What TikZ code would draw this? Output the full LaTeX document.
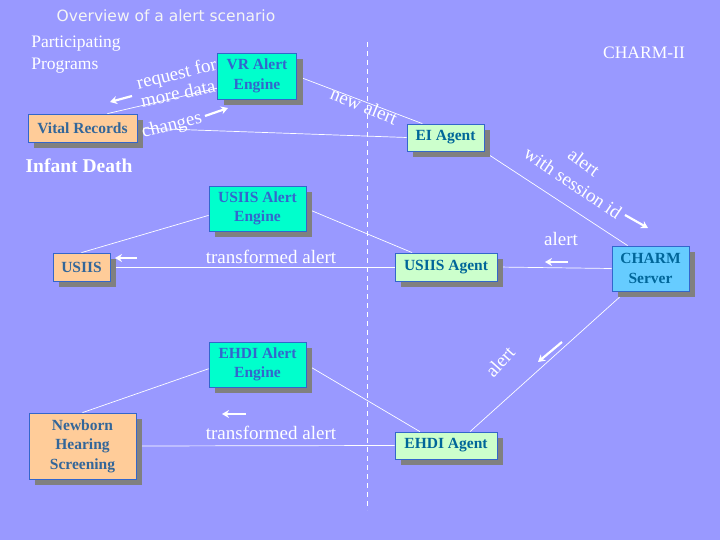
\documentclass[tikz,border=0pt]{standalone}
\usepackage{fontspec}
\setmainfont{Liberation Serif}
\newfontfamily\titlefont{DejaVu Sans}
\usetikzlibrary{shadows,arrows.meta}
\definecolor{bgblue}{RGB}{153,153,255}
\definecolor{engfill}{RGB}{0,255,204}
\definecolor{progfill}{RGB}{255,204,153}
\definecolor{agentfill}{RGB}{204,255,204}
\definecolor{servfill}{RGB}{102,204,255}
\definecolor{boxline}{RGB}{51,102,204}
\definecolor{progtext}{RGB}{51,102,153}
\definecolor{agenttext}{RGB}{0,102,153}
\pgfdeclarelayer{bg}
\pgfdeclarelayer{lines}
\pgfsetlayers{bg,lines,main}
\begin{document}
\begin{tikzpicture}[
			x=1pt, y=-1pt,
			box/.style = {draw=boxline, line width=0.8pt, align=center, inner sep=1pt,
				font=\fontsize{15.5}{19.5}\selectfont\bfseries,
				drop shadow={shadow xshift=6pt, shadow yshift=-6pt, fill=gray, opacity=1}},
			engine/.style = {box, fill=engfill, text=boxline, minimum width=97pt, minimum height=45pt},
			program/.style = {box, fill=progfill, text=progtext, minimum height=28pt},
			agent/.style = {box, fill=agentfill, text=agenttext, minimum height=28pt},
			server/.style = {box, fill=servfill, text=agenttext, minimum width=77pt, minimum height=45pt},
			lbl/.style = {text=white, inner sep=0pt, font=\fontsize{19}{19}\selectfont},
			flow/.style = {draw=white, line width=0.7pt},
			tip/.style = {draw=white, line width=2.2pt, -{Stealth[length=7pt,width=8pt]}},
			]
			\begin{pgfonlayer}{bg}
				\fill[bgblue] (0,0) rectangle (720,540);
			\end{pgfonlayer}
			% headings
			\node[text=white!92!gray, font=\titlefont\fontsize{15.5}{15.5}\selectfont] (title) at (166,16) {Overview of a alert scenario};
			\node[text=white, align=left, inner sep=0pt, font=\fontsize{17.5}{22}\selectfont] (part) at (76,55) {Participating\\Programs};
			\node[text=white, inner sep=0pt, font=\fontsize{17.5}{17.5}\selectfont] (charmii) at (644,53) {CHARM-II};
			\node[text=white, inner sep=0pt, font=\fontsize{19.5}{19.5}\selectfont\bfseries] (infant) at (79,166) {Infant Death};
			% boxes
			\node[engine, minimum width=79pt, minimum height=46pt] (vreng) at (257,76) {VR Alert\\Engine};
			\node[program, minimum width=109pt] (vital) at (82.5,128) {Vital Records};
			\node[agent, minimum width=77pt, minimum height=27pt] (ei) at (445.5,137.5) {EI Agent};
			\node[engine] (usiiseng) at (257.5,208.5) {USIIS Alert\\Engine};
			\node[program, minimum width=57pt] (usiis) at (81.5,267) {USIIS};
			\node[agent, minimum width=102pt] (usiisag) at (446,267) {USIIS Agent};
			\node[server] (charm) at (650.5,268.5) {CHARM\\Server};
			\node[engine] (ehdieng) at (257.5,364.5) {EHDI Alert\\Engine};
			\node[program, minimum width=107pt, minimum height=66pt, font=\fontsize{15.5}{19.5}\selectfont\bfseries] (newborn) at (82.5,446) {Newborn\\Hearing\\Screening};
			\node[agent, minimum width=102pt, minimum height=27pt] (ehdiag) at (446,445.5) {EHDI Agent};
			% connectors
			\begin{pgfonlayer}{lines}
				\draw[white, line width=0.7pt, dash pattern=on 5pt off 4pt] (367,42) -- (367,510);
				\draw[flow] (vital.30) -- (vreng.197);
				\draw[flow] (vital.east) -- (ei.west);
				\draw[flow] (vreng.east) -- (ei.149);
				\draw[flow] (ei.-20) -- (charm.135);
				\draw[flow] (usiiseng.188) -- (usiis.north);
				\draw[flow] (usiiseng.east) -- (usiisag.157);
				\draw[flow] (usiis.east) -- (usiisag.west);
				\draw[flow] (charm.west) -- (usiisag.east);
				\draw[flow] (ehdieng.185) -- (newborn.north);
				\draw[flow] (ehdieng.east) -- (ehdiag.152);
				\draw[flow] (newborn.east) -- (ehdiag.west);
				\draw[flow] (charm.223) -- (ehdiag.30);
			\end{pgfonlayer}
			% labels
			\node[lbl, rotate=14] (req) at (177,75) {request for};
			\node[lbl, rotate=12] (more) at (178,93) {more data};
			\node[lbl, rotate=14] (chg) at (172,126) {changes};
			\node[lbl, rotate=-22] (newal) at (364,106) {new alert};
			\node[lbl, rotate=-36] (eial) at (584,162) {alert};
			\node[lbl, rotate=-34] (sess) at (573,183) {with session id};
			\node[lbl] (chal) at (561,239) {alert};
			\node[lbl] (trus) at (271,257) {transformed alert};
			\node[lbl] (treh) at (271,433) {transformed alert};
			\node[lbl, rotate=48] (ehal) at (500,362) {alert};
			% direction marks
			\draw[tip] (132,96) -- (110,102);
			\draw[tip] (205,116) -- (228,108);
			\draw[tip] (625,215) -- (648,228);
			\draw[tip] (568,262) -- (545,262);
			\draw[tip] (137,258) -- (115,258);
			\draw[tip] (246,414) -- (222,414);
			\draw[tip] (562,342) -- (538,362);
		\end{tikzpicture}
\end{document}
